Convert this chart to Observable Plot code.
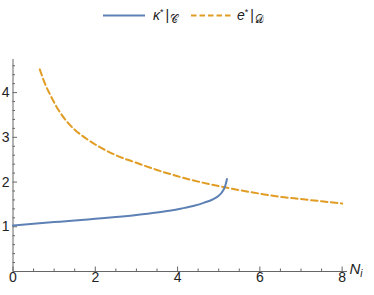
<!DOCTYPE html>
<html><head><meta charset="utf-8">
<script src="https://cdn.jsdelivr.net/npm/d3@7"></script>
<script src="https://cdn.jsdelivr.net/npm/@observablehq/plot@0.6"></script>
<style>
body{margin:0;background:#fff;font-family:"Liberation Sans",Arial,sans-serif;}
#wrap{position:relative;width:374px;height:295px;}
#legend{position:absolute;left:0;top:0;width:374px;height:30px;}
</style></head>
<body><div id="wrap"><div id="legend"></div></div>
<script>
const kappaX = [0,0.5,1,1.5,2,2.5,3,3.5,3.8,4.1,4.4,4.65,4.85,4.98,5.07,5.13,5.17,5.2];
const kappaY = [1.03,1.07,1.105,1.14,1.18,1.22,1.265,1.32,1.36,1.41,1.47,1.54,1.61,1.68,1.76,1.85,1.95,2.07];
const eX = [0.65,0.8,0.91,1.1,1.32,1.5,1.72,2,2.5,3,3.5,4,4.5,5,5.5,6,6.5,7,7.5,8];
const eY = [4.52,4.15,3.94,3.62,3.34,3.17,3.01,2.84,2.6,2.43,2.27,2.13,2.01,1.91,1.82,1.74,1.67,1.62,1.57,1.52];
const xMajor = [0,2,4,6,8];
const xMinor = [0.5,1,1.5,2.5,3,3.5,4.5,5,5.5,6.5,7,7.5];
const yMajor = [1,2,3,4];
const yMinor = [0.2,0.4,0.6,0.8,1.2,1.4,1.6,1.8,2.2,2.4,2.6,2.8,3.2,3.4,3.6,3.8,4.2,4.4,4.6];
const blue = "#5e81b5", orange = "#e19c24";

const kappa = kappaX.map((x,i)=>({x, y:kappaY[i]}));
const e = eX.map((x,i)=>({x, y:eY[i]}));
const axisColor = "#666";
const fmt = d3.format("d");

const chart = Plot.plot({
  width: 374, height: 295,
  marginLeft: 12.5, marginRight: 27, marginTop: 59, marginBottom: 24,
  style: {fontFamily: '"Liberation Sans", Arial, sans-serif', fontSize: "14px", color: "#222", background: "transparent"},
  x: {domain: [0, 8.13]},
  y: {domain: [0, 4.74]},
  marks: [
    Plot.axisX({ticks: xMajor, tickFormat: fmt, tickSize: 0, tickPadding: 1, label: null, fill: "#222"}),
    Plot.axisX({ticks: xMajor, tickSize: -4.5, stroke: axisColor, text: null, label: null}),
    Plot.axisX({ticks: xMinor, tickSize: -2.5, stroke: axisColor, text: null, label: null}),
    Plot.axisY({ticks: yMajor, tickFormat: fmt, tickSize: 0, tickPadding: 3.5, label: null, fill: "#222"}),
    Plot.axisY({ticks: yMajor, tickSize: -4.5, stroke: axisColor, text: null, label: null}),
    Plot.axisY({ticks: yMinor, tickSize: -2.5, stroke: axisColor, text: null, label: null}),
    Plot.ruleY([0], {stroke: axisColor}),
    Plot.ruleX([0], {stroke: axisColor}),
    Plot.line(e, {x: "x", y: "y", stroke: orange, strokeWidth: 2, strokeDasharray: "6.5,3.5", curve: "monotone-x"}),
    Plot.line(kappa, {x: "x", y: "y", stroke: blue, strokeWidth: 2, curve: "monotone-x"})
  ]
});
const wrap = document.getElementById("wrap");
wrap.insertBefore(chart, wrap.firstChild);

// axis label N_i
const svg = d3.select(chart);
svg.append("text").attr("x", 356).attr("y", 274).attr("font-size", 15).attr("font-style","italic")
  .attr("fill","#222").attr("font-family",'"Liberation Sans", Arial, sans-serif')
  .call(t=>{t.append("tspan").text("N"); t.append("tspan").attr("font-size",10).attr("dy",3).text("i");});

// legend
const leg = d3.select("#legend").append("svg").attr("width",374).attr("height",30);
leg.append("line").attr("x1",103).attr("x2",145).attr("y1",15.5).attr("y2",15.5).attr("stroke",blue).attr("stroke-width",2);
leg.append("line").attr("x1",191).attr("x2",231).attr("y1",15.5).attr("y2",15.5).attr("stroke",orange).attr("stroke-width",2).attr("stroke-dasharray","5.5,3");
const lt = (x, sym, sub) => {
  const t = leg.append("text").attr("x",x).attr("y",20).attr("font-size",14).attr("fill","#222")
    .attr("font-family",'"Liberation Sans", Arial, sans-serif');
  t.append("tspan").attr("font-style","italic").text(sym);
  t.append("tspan").attr("font-size",9).attr("dy",-5).text("*");
  t.append("tspan").attr("dy",5).attr("dx",2).text("|");
  t.append("tspan").attr("font-size",11).attr("dy",3).attr("dx",1).attr("font-family","DejaVu Sans").text(sub);
};
lt(153, "κ", "𝒞");
lt(237, "e", "𝒟");
</script></body></html>
